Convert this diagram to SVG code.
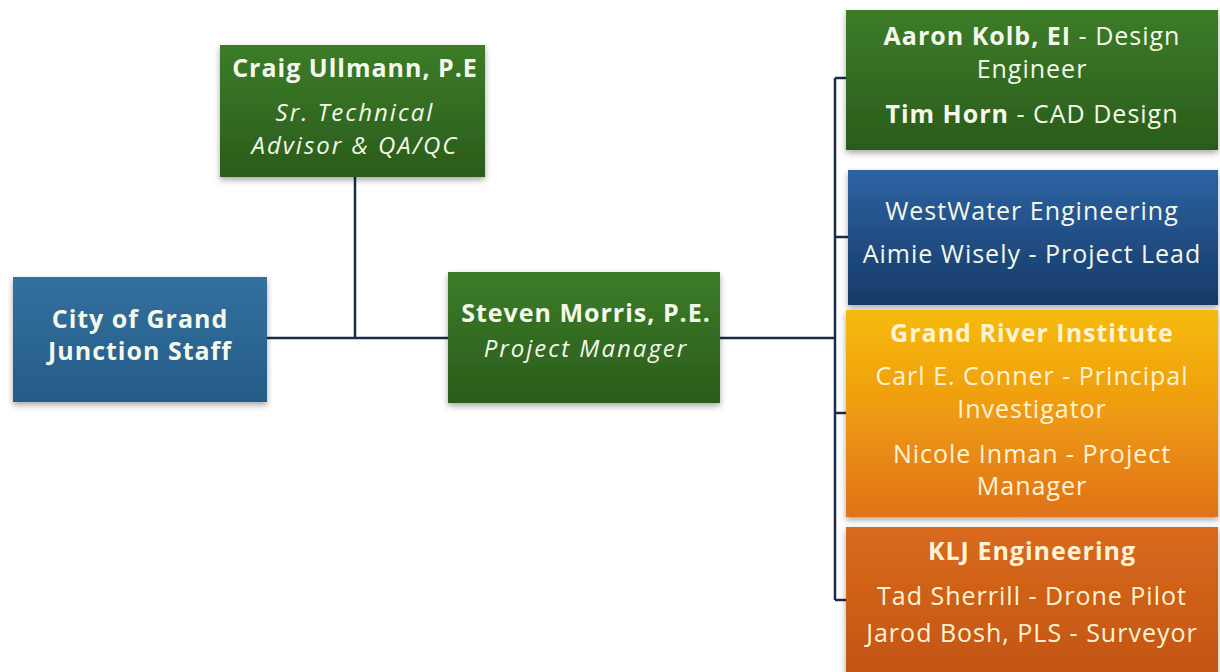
<svg xmlns="http://www.w3.org/2000/svg" width="1220" height="672" viewBox="0 0 1220 672">
<style>
text{font-family:"Open Sans","Liberation Sans",sans-serif;font-size:25px;letter-spacing:1px;fill:#f4f8ea;text-anchor:middle}
.b{font-weight:bold}
.i{font-style:italic;font-size:24px;letter-spacing:2px}
.o text{fill:#fff3d6}
.con{stroke:#1b2b48;stroke-width:2.5;fill:none}
</style>
<defs>
<linearGradient id="gGreen" x1="0" y1="0" x2="0" y2="1"><stop offset="0" stop-color="#3c7c28"/><stop offset="1" stop-color="#2a5c1c"/></linearGradient>
<linearGradient id="gBlueC" x1="0" y1="0" x2="0" y2="1"><stop offset="0" stop-color="#33709f"/><stop offset="1" stop-color="#255c87"/></linearGradient>
<linearGradient id="gBlue" x1="0" y1="0" x2="0" y2="1"><stop offset="0" stop-color="#2d63a3"/><stop offset="1" stop-color="#173a68"/></linearGradient>
<linearGradient id="gYel" x1="0" y1="0" x2="0" y2="1"><stop offset="0" stop-color="#f6bb08"/><stop offset="0.5" stop-color="#ee9a12"/><stop offset="1" stop-color="#e0721a"/></linearGradient>
<linearGradient id="gOr" x1="0" y1="0" x2="0" y2="1"><stop offset="0" stop-color="#d96a1c"/><stop offset="1" stop-color="#c25414"/></linearGradient>
<filter id="sh" x="-10%" y="-10%" width="120%" height="130%"><feDropShadow dx="0" dy="3" stdDeviation="3" flood-color="#000" flood-opacity="0.35"/></filter>
</defs>
<rect width="1220" height="672" fill="#ffffff"/>
<g id="connectors">
<line class="con" x1="267" y1="338" x2="448" y2="338"/>
<line class="con" x1="355" y1="177" x2="355" y2="338"/>
<line class="con" x1="720" y1="338" x2="835" y2="338"/>
<line class="con" x1="835" y1="78" x2="835" y2="600"/>
<line class="con" x1="835" y1="78" x2="846" y2="78"/>
<line class="con" x1="835" y1="237" x2="848" y2="237"/>
<line class="con" x1="835" y1="413" x2="846" y2="413"/>
<line class="con" x1="835" y1="600" x2="846" y2="600"/>
</g>
<g id="city">
<rect x="13" y="277" width="254" height="125" fill="url(#gBlueC)" filter="url(#sh)"/>
<text class="b" x="140" y="328">City of Grand</text>
<text class="b" x="140" y="360">Junction Staff</text>
</g>
<g id="craig">
<rect x="220" y="45" width="265" height="132" fill="url(#gGreen)" filter="url(#sh)"/>
<text class="b" x="355" y="77">Craig Ullmann, P.E</text>
<text class="i" x="355" y="121">Sr. Technical</text>
<text class="i" x="355" y="154">Advisor &amp; QA/QC</text>
</g>
<g id="steven">
<rect x="448" y="272" width="272" height="131" fill="url(#gGreen)" filter="url(#sh)"/>
<text class="b" x="586" y="322">Steven Morris, P.E.</text>
<text class="i" x="586" y="357">Project Manager</text>
</g>
<g id="aaron">
<rect x="846" y="10" width="372" height="140" fill="url(#gGreen)" filter="url(#sh)"/>
<text x="1032" y="45"><tspan class="b">Aaron Kolb, EI</tspan> - Design</text>
<text x="1032" y="78">Engineer</text>
<text x="1032" y="123"><tspan class="b">Tim Horn</tspan> - CAD Design</text>
</g>
<g id="westwater">
<rect x="848" y="170" width="370" height="135" fill="url(#gBlue)" filter="url(#sh)"/>
<text x="1032" y="220">WestWater Engineering</text>
<text x="1032" y="263">Aimie Wisely - Project Lead</text>
</g>
<g id="grandriver" class="o">
<rect x="846" y="310" width="372" height="207" fill="url(#gYel)" filter="url(#sh)"/>
<text class="b" x="1032" y="342">Grand River Institute</text>
<text x="1032" y="385">Carl E. Conner - Principal</text>
<text x="1032" y="418">Investigator</text>
<text x="1032" y="463">Nicole Inman - Project</text>
<text x="1032" y="495">Manager</text>
</g>
<g id="klj" class="o">
<rect x="846" y="527" width="372" height="150" fill="url(#gOr)" filter="url(#sh)"/>
<text class="b" x="1032" y="560">KLJ Engineering</text>
<text x="1032" y="605">Tad Sherrill - Drone Pilot</text>
<text x="1032" y="642">Jarod Bosh, PLS - Surveyor</text>
</g>
</svg>
